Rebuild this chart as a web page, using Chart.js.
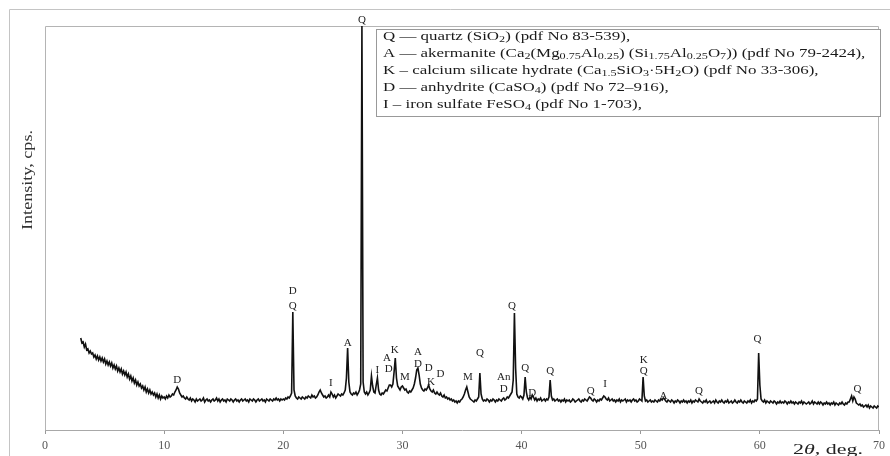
<!DOCTYPE html>
<html><head><meta charset="utf-8">
<script src="https://cdn.jsdelivr.net/npm/chart.js@4"></script>
<style>html,body{margin:0;padding:0;background:#fff;overflow:hidden}canvas{display:block}</style>
</head><body>
<canvas id="c" width="890" height="456"></canvas>
<script>
// Scan grid (2θ, degrees)
const scanStart = 3.0;
const scanStep = 0.1;
// Intensity readings, one row per degree (3.0 ... 69.9), then 70.0
const intensity = [
92,87,88,83,86,80,81,77,79,76,
77,73,75,71,74,70,73,69,72,68,
71,66,69,65,68,64,67,62,65,61,
64,59,62,58,61,56,59,55,58,53,
56,51,54,49,52,47,50,45,48,44,
46,42,44,40,43,38,41,37,40,36,
38,35,37,33,36,32,35,31,34,32,
33,31,34,32,35,33,34,36,35,38,
40,43,41,37,35,33,34,32,31,33,
31,30,32,29,31,30,28,31,29,30,
31,29,30,32,28,30,31,29,30,28,
30,31,29,30,32,29,31,28,30,31,
29,30,28,31,30,29,31,30,28,30,
31,29,30,28,30,31,29,30,31,29,
30,28,31,30,29,31,30,28,30,31,
29,30,31,29,30,28,31,30,29,31,
30,29,31,30,32,30,31,29,31,30,
31,30,32,31,33,32,34,37,118,40,
34,32,31,33,32,31,33,32,31,33,
32,34,33,32,35,33,34,32,33,35,
38,40,37,35,33,34,32,33,35,33,
38,36,33,35,32,34,36,35,34,36,
35,37,40,52,82,48,38,36,35,37,
36,38,35,37,40,46,404,48,38,36,
38,35,37,40,54,44,38,37,45,52,
40,36,35,37,36,38,40,39,42,45,
45,43,46,58,72,52,44,42,40,43,
44,42,40,41,38,37,39,38,40,42,
46,52,60,62,55,46,42,40,39,41,
40,42,45,41,39,38,40,37,36,38,
36,35,37,34,33,35,32,33,31,32,
30,31,29,30,28,29,27,29,28,30,
31,33,36,40,43,38,33,31,30,29,
28,30,29,31,33,57,36,31,29,30,
29,31,30,28,30,29,31,30,28,30,
29,31,30,29,31,32,30,31,33,32,
34,36,38,50,117,62,36,33,32,34,
33,31,35,53,38,32,30,33,31,35,
33,30,32,29,31,30,32,29,30,31,
29,31,30,33,50,34,30,31,29,30,
31,29,30,28,30,29,31,28,30,29,
30,28,29,31,30,28,29,30,31,29,
28,30,29,31,30,29,31,33,32,30,
29,31,30,28,30,29,31,30,32,34,
33,31,30,32,29,30,31,29,30,28,
30,29,31,28,30,29,30,31,28,30,
29,30,28,30,31,29,30,28,29,31,
30,29,53,34,29,30,28,29,30,28,
29,28,30,29,28,30,29,31,30,32,
31,29,28,30,29,28,30,29,27,29,
28,30,29,27,29,28,30,28,29,27,
29,28,30,27,29,28,30,29,28,31,
29,28,27,29,28,30,27,28,29,27,
28,29,27,30,28,27,29,28,30,28,
27,29,28,30,27,28,29,27,28,30,
28,27,29,28,30,28,27,29,28,27,
29,28,30,27,29,28,30,29,31,77,
45,31,29,28,30,27,29,28,27,29,
28,27,29,28,26,28,27,29,27,28,
27,29,28,26,28,27,29,27,28,26,
28,27,26,28,27,29,26,28,27,26,
27,28,26,27,29,26,28,27,26,28,
26,28,27,25,27,26,28,26,27,25,
27,26,28,25,27,26,25,27,26,28,
26,25,27,26,28,28,31,34,29,33,
31,27,26,25,26,24,25,23,24,25,
23,25,22,24,23,22,24,23,22,24,
23
];
const xTickValues = [0,10,20,30,40,50,60,70];
const xMin = 0, xMax = 70;
const yMin = 0, yMax = 404;

// Phase labels over peaks
const peakText   = ["D","D","Q","I","A","Q","I","A","D","K","M","A","D","D","K","D","M","Q","An","D","Q","Q","D","Q","Q","I","K","Q","A","Q","Q","Q"];
const peakAngle  = [11.1,20.8,20.8,24.0,25.4,26.6,27.9,28.7,28.85,29.35,30.2,31.3,31.3,32.2,32.4,33.2,35.5,36.5,38.5,38.5,39.2,40.3,40.9,42.4,45.8,47.0,50.25,50.25,51.9,54.9,59.8,68.2];
const peakLevel  = [50,139,124,47,87,410,60,72,61,80,53,78,66,62,48,56,53,77,53,41,124,62,37,59,39,46,70,59,34,39,91,41];

const legendLines = [
  "Q \u2014 quartz (SiO_{2}) (pdf No 83-539),",
  "A \u2014 akermanite (Ca_{2}(Mg_{0.75}Al_{0.25}) (Si_{1.75}Al_{0.25}O_{7})) (pdf No 79-2424),",
  "K \u2013 calcium silicate hydrate (Ca_{1.5}SiO_{3}\u00b75H_{2}O) (pdf No 33-306),",
  "D \u2014 anhydrite (CaSO_{4}) (pdf No 72\u2013916),",
  "I \u2013 iron sulfate FeSO_{4} (pdf No 1-703),"
];
const yTitle = "Intensity, cps.";

const points = intensity.map((v, i) => ({ x: Math.round((scanStart + i * scanStep) * 10) / 10, y: v }));

const SERIF = '"Liberation Serif", "Times New Roman", serif';

function drawRich(ctx, str, x, y, size) {
  const parts = str.split(/(_\{[^}]*\})/);
  for (const p of parts) {
    if (!p) continue;
    if (p.startsWith('_{')) {
      const t = p.slice(2, -1);
      ctx.font = (size * 0.72).toFixed(1) + 'px ' + SERIF;
      ctx.fillText(t, x, y + size * 0.2);
      x += ctx.measureText(t).width;
    } else {
      ctx.font = size + 'px ' + SERIF;
      ctx.fillText(p, x, y);
      x += ctx.measureText(p).width;
    }
  }
  return x;
}

const decor = {
  id: 'decor',
  beforeDatasetsDraw(chart) {
    const { ctx, chartArea: a } = chart;
    ctx.save();
    ctx.strokeStyle = '#c4c4c4';
    ctx.lineWidth = 1;
    ctx.beginPath();
    ctx.moveTo(9.5, 460); ctx.lineTo(9.5, 9.5); ctx.lineTo(895, 9.5);
    ctx.stroke();
    ctx.strokeStyle = '#b4b4b4';
    ctx.beginPath();
    ctx.moveTo(a.left + 0.5, a.bottom); ctx.lineTo(a.left + 0.5, a.top + 0.5);
    ctx.lineTo(a.right - 0.5, a.top + 0.5); ctx.lineTo(a.right - 0.5, a.bottom);
    ctx.stroke();
    ctx.restore();
  },
  afterDatasetsDraw(chart) {
    const { ctx, scales } = chart;
    ctx.save();
    // peak labels
    ctx.fillStyle = '#222';
    ctx.font = '11px ' + SERIF;
    ctx.textAlign = 'center';
    ctx.textBaseline = 'middle';
    for (let i = 0; i < peakText.length; i++) {
      const px = scales.x.getPixelForValue(peakAngle[i]);
      const py = scales.y.getPixelForValue(peakLevel[i]);
      ctx.fillText(peakText[i], px, py);
    }
    // legend box
    const bx = 376.5, by = 29.5, bw = 504, bh = 87;
    ctx.fillStyle = '#fff';
    ctx.fillRect(bx, by, bw, bh);
    ctx.strokeStyle = '#999';
    ctx.strokeRect(bx, by, bw, bh);
    ctx.fillStyle = '#1a1a1a';
    ctx.textAlign = 'left';
    ctx.textBaseline = 'alphabetic';
    ctx.save();
    ctx.translate(383, 0);
    ctx.scale(1.41, 1);
    legendLines.forEach((ln, i) => drawRich(ctx, ln, 0, 40 + i * 17, 12));
    ctx.restore();
    // y title
    ctx.save();
    ctx.translate(32, 180);
    ctx.rotate(-Math.PI / 2);
    ctx.font = '14px ' + SERIF;
    ctx.textAlign = 'center';
    const wy = ctx.measureText(yTitle).width;
    ctx.scale(100 / wy, 1);
    ctx.fillStyle = '#333';
    ctx.fillText(yTitle, 0, 0);
    ctx.restore();
    // x title: 2θ, deg.
    ctx.save();
    ctx.fillStyle = '#222';
    ctx.textAlign = 'left';
    ctx.font = '15px ' + SERIF;
    const w1 = ctx.measureText('2').width;
    ctx.font = 'italic 15px ' + SERIF;
    const w2 = ctx.measureText('\u03b8').width;
    ctx.font = '15px ' + SERIF;
    const w3 = ctx.measureText(', deg.').width;
    const sx = 70 / (w1 + w2 + w3);
    ctx.translate(793, 454);
    ctx.scale(sx, 1);
    ctx.fillText('2', 0, 0);
    ctx.font = 'italic 15px ' + SERIF;
    ctx.fillText('\u03b8', w1, 0);
    ctx.font = '15px ' + SERIF;
    ctx.fillText(', deg.', w1 + w2, 0);
    ctx.restore();
    ctx.restore();
  }
};

new Chart(document.getElementById('c').getContext('2d'), {
  type: 'line',
  data: { datasets: [{ data: points, borderColor: '#111', borderWidth: 1.6, pointRadius: 0, tension: 0, fill: false }] },
  options: {
    responsive: false,
    animation: false,
    layout: { padding: { left: 45, right: 8, top: 26, bottom: 0 } },
    plugins: { legend: { display: false }, tooltip: { enabled: false } },
    scales: {
      x: {
        type: 'linear', min: xMin, max: xMax,
        afterBuildTicks: s => { s.ticks = xTickValues.map(v => ({ value: v })); },
        grid: { display: true, drawOnChartArea: false, drawTicks: true, tickLength: 4, color: '#999' },
        border: { display: true, color: '#a8a8a8' },
        ticks: { font: { family: SERIF, size: 12 }, color: '#555', padding: 5, maxRotation: 0, autoSkip: false },
        afterFit: s => { s.height = 26; }
      },
      y: { display: false, min: yMin, max: yMax }
    }
  },
  plugins: [decor]
});
</script>
</body></html>
